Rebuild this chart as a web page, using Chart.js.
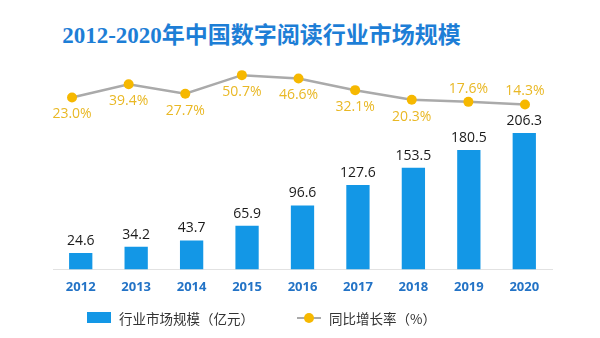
<!DOCTYPE html>
<html>
<head>
<meta charset="utf-8">
<script src="https://cdn.jsdelivr.net/npm/chart.js@4"></script>
<style>
  html, body { margin: 0; padding: 0; background: #fff; }
  #wrap { position: relative; width: 600px; height: 338px; overflow: hidden; }
  #title {
    position: absolute; left: 0; top: 16px; width: 523px; text-align: center;
    font-family: "Liberation Serif", "Noto Sans CJK SC", serif; font-weight: bold;
    font-size: 23px; color: #1d7ed6;
  }
  #chart { position: absolute; left: 0; top: 0; }
  #legend {
    position: absolute; left: 0; top: 308px; width: 523px;
    display: flex; justify-content: center; align-items: center; gap: 43px;
    font-family: "Noto Sans CJK SC", sans-serif; font-size: 13.5px; color: #333;
  }
  .item { display: flex; align-items: center; }
  .item canvas { margin-right: 8px; }
</style>
</head>
<body>
<div id="wrap">
  <div id="title">2012-2020年中国数字阅读行业市场规模</div>
  <canvas id="chart" width="600" height="338"></canvas>
  <div id="legend"></div>
</div>
<script>
// data
const years = ['2012', '2013', '2014', '2015', '2016', '2017', '2018', '2019', '2020'];
const marketSize = [24.6, 34.2, 43.7, 65.9, 96.6, 127.6, 153.5, 180.5, 206.3]; // 亿元
const growthRate = [23.0, 39.4, 27.7, 50.7, 46.6, 32.1, 20.3, 17.6, 14.3]; // %
const sizeLabel = '行业市场规模（亿元）';
const rateLabel = '同比增长率（%）';

const BLUE = '#1397e6';
const GREY = '#aaaaaa';
const YELLOW = '#f6b800';

// value labels over bars and next to points
const valueLabels = {
  id: 'valueLabels',
  afterDatasetsDraw(chart) {
    const ctx = chart.ctx;
    ctx.save();
    ctx.textAlign = 'center';
    ctx.textBaseline = 'middle';
    ctx.font = '14px "Open Sans", "Noto Sans", sans-serif';
    chart.getDatasetMeta(0).data.forEach((bar, i) => {
      ctx.fillStyle = '#1a1a1a';
      ctx.fillText(marketSize[i].toFixed(1), bar.x, bar.y - 12);
    });
    chart.getDatasetMeta(1).data.forEach((pt, i) => {
      ctx.fillStyle = '#e9b825';
      // the last two labels sit above the line, the rest below
      let dy = i >= 7 ? -13 : 17;
      ctx.fillText(growthRate[i].toFixed(1) + '%', pt.x, pt.y + dy);
    });
    ctx.restore();
  }
};

const chart = new Chart(document.getElementById('chart'), {
  data: {
    labels: years,
    datasets: [
      {
        type: 'bar',
        label: sizeLabel,
        data: marketSize,
        backgroundColor: BLUE,
        grouped: false,
        categoryPercentage: 1,
        barPercentage: 0.42,
        yAxisID: 'y',
        xAxisID: 'x',
        order: 2
      },
      {
        type: 'line',
        label: rateLabel,
        data: growthRate.map((v, i) => ({ x: i, y: v })),
        borderColor: GREY,
        borderWidth: 2.5,
        pointRadius: 5,
        pointBorderWidth: 0,
        pointBackgroundColor: YELLOW,
        pointHoverRadius: 5,
        tension: 0,
        yAxisID: 'y1',
        xAxisID: 'x2',
        order: 1
      }
    ]
  },
  options: {
    responsive: false,
    animation: false,
    layout: { padding: { top: 60, left: 53, right: 48, bottom: 41 } },
    plugins: {
      legend: { display: false },
      tooltip: { enabled: false }
    },
    scales: {
      x: {
        type: 'category',
        grid: { display: false },
        border: { display: true, color: '#e2e2e2', width: 1 },
        ticks: {
          padding: 2,
          color: '#2373c6',
          font: { family: '"Open Sans", "Noto Sans", sans-serif', size: 13, weight: 'bold' }
        }
      },
      x2: {
        type: 'linear',
        display: false,
        min: -0.336,
        max: 8.477
      },
      y: {
        display: false,
        min: 0,
        max: 316.5
      },
      y1: {
        display: false,
        min: -190.2,
        max: 69.5
      }
    }
  },
  plugins: [valueLabels]
});

// legend built from the datasets
function swatch(ds) {
  const c = document.createElement('canvas');
  c.width = 24; c.height = 12;
  const g = c.getContext('2d');
  if (ds.type === 'bar') {
    g.fillStyle = ds.backgroundColor;
    g.fillRect(0, 0, 24, 11);
  } else {
    g.strokeStyle = ds.borderColor;
    g.lineWidth = 2;
    g.beginPath(); g.moveTo(0, 6); g.lineTo(24, 6); g.stroke();
    g.fillStyle = ds.pointBackgroundColor;
    g.beginPath(); g.arc(12, 6, 5, 0, Math.PI * 2); g.fill();
  }
  return c;
}
const legendEl = document.getElementById('legend');
chart.data.datasets.forEach(ds => {
  const item = document.createElement('div');
  item.className = 'item';
  item.appendChild(swatch(ds));
  const t = document.createElement('span');
  t.textContent = ds.label;
  item.appendChild(t);
  legendEl.appendChild(item);
});
</script>
</body>
</html>
